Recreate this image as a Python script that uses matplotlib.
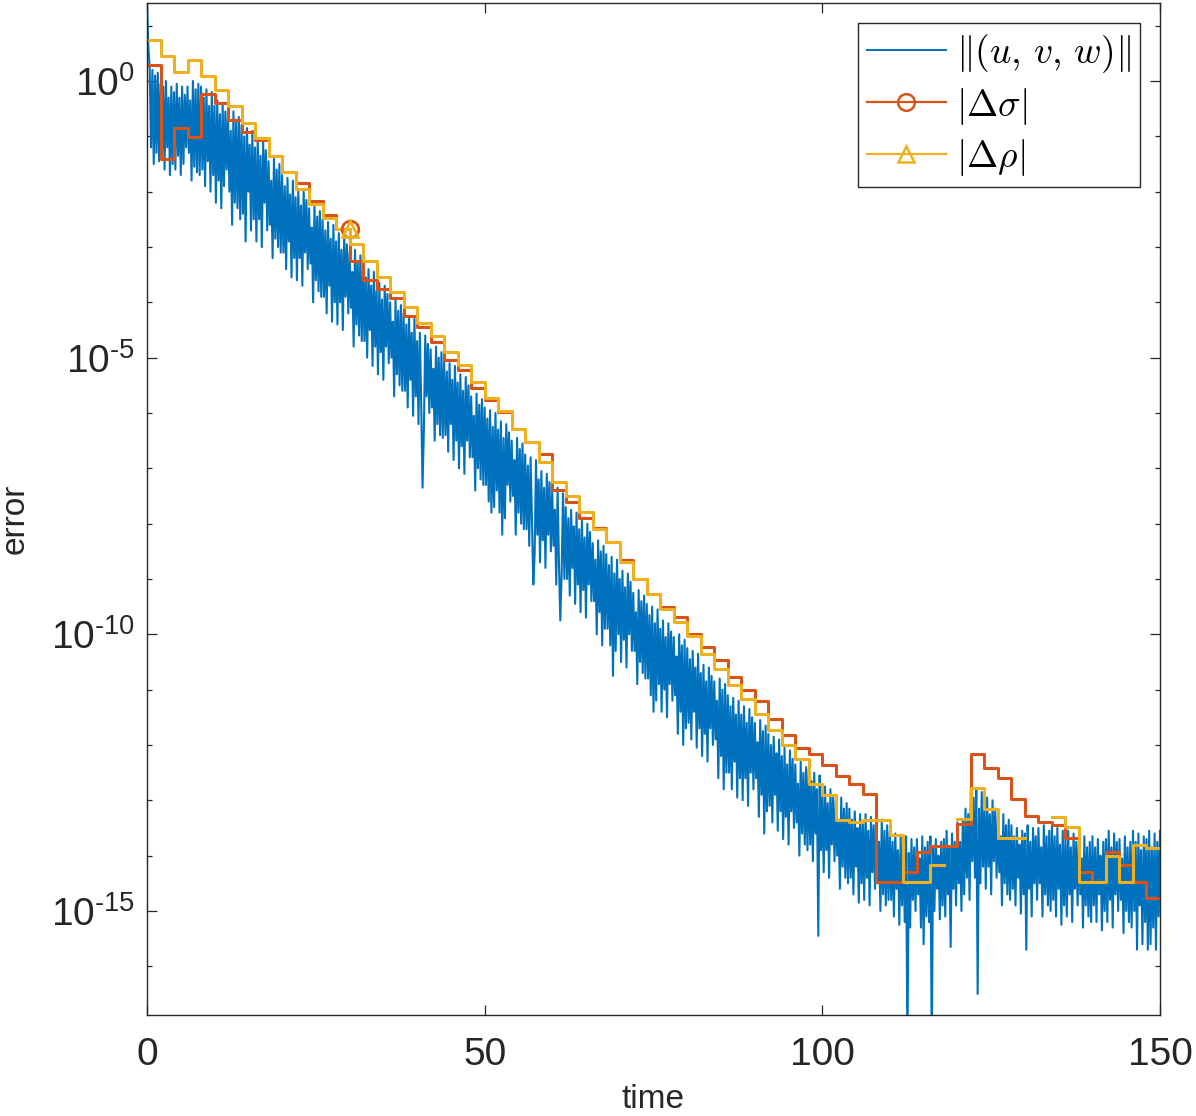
import numpy as np
import matplotlib
matplotlib.use('Agg')
import matplotlib.pyplot as plt
from matplotlib.lines import Line2D
from matplotlib.ticker import NullLocator, NullFormatter

plt.rcParams['font.family'] = ['Liberation Sans', 'DejaVu Sans']
plt.rcParams['mathtext.fontset'] = 'cm'
plt.rcParams['axes.unicode_minus'] = False

# stairs: one value per 2 time units, edges 0..150
stepTime = list(range(0, 152, 2))

# log10 |delta sigma| (red)
sigmaLog = [0.29, -1.41, -0.85, -1.01, -0.23, -0.39, -0.71, -0.92, -1.07, -1.35,
            -1.64, -1.85, -2.17, -2.42, -2.68, -3.25, -3.60, -3.76, -3.92, -4.24,
            -4.45, -4.72, -5.04, -5.22, -5.54, -5.76, -5.99, -6.29, -6.53, -6.75,
            -7.40, -7.61, -7.90, -8.08, -8.33, -8.66, -9.00, -9.28, -9.50, -9.69,
            -9.99, -10.23, -10.46, -10.78, -11.01, -11.21, -11.53, -11.82, -12.06, -12.17,
            -12.36, -12.56, -12.70, -12.89, -14.47, -14.47, -14.29, -13.93, -13.82, -13.82,
            -13.42, -12.17, -12.42, -12.59, -12.97, -13.29, -13.39, -13.44, -13.69, -14.30,
            -14.47, -13.94, -14.17, -14.47, -14.77]

# log10 |delta rho| (yellow), nan where it is exactly zero
rhoLog = [0.735, 0.45, 0.17, 0.38, 0.09, -0.17, -0.46, -0.76, -1.03, -1.35,
          -1.64, -1.95, -2.23, -2.47, -2.68, -2.95, -3.25, -3.55, -3.81, -4.09,
          -4.38, -4.60, -4.90, -5.14, -5.44, -5.72, -5.96, -6.29, -6.53, -6.89,
          -7.25, -7.50, -7.79, -8.09, -8.33, -8.69, -9.00, -9.28, -9.54, -9.78,
          -10.03, -10.35, -10.62, -10.92, -11.16, -11.44, -11.73, -12.00, -12.26, -12.70,
          -12.91, -13.36, -13.40, -13.36, -13.36, -13.63, -14.47, -14.47, -14.17, np.nan,
          -13.33, -12.77, -13.16, -13.69, -13.69, np.nan, np.nan, -13.30, -13.48, -14.47,
          -14.47, -14.01, -14.47, -13.80, -13.87]

# marker position on both stairs
markerTime = 30
markerLog = -2.68

# log10 ||(u,v,w)|| (blue), sampled every 0.2 time units (one row = 2 time units)
normStep = 0.2
normLog = [
  1.45, 0.6, 0.25, -1.2, 0.2, -1.5, 0.1, -1.3, 0.15, -1.45,
  -0.05, -1.4, -0.1, -1.6, 0.0, -1.2, -0.3, -1.7, -0.1, -1.5,
  -0.2, -1.6, -0.05, -1.35, -0.3, -1.7, -0.1, -1.5, -0.25, -1.2,
  -0.1, -1.3, -0.35, -1.8, 0.0, -1.55, -0.15, -1.65, -0.05, -1.7,
  -0.1, -1.6, -0.3, -1.9, -0.15, -1.45, -0.45, -2.0, -0.2, -1.7,
  -0.45, -2.2, -0.35, -1.8, -0.6, -2.3, -0.4, -1.9, -0.55, -1.6,
  -0.6, -2.0, -0.9, -2.6, -0.55, -2.2, -0.75, -2.3, -0.65, -2.5,
  -0.8, -2.4, -1.0, -2.9, -0.85, -2.0, -1.15, -2.7, -0.9, -2.5,
  -1.2, -2.9, -1.05, -2.5, -1.35, -3.0, -1.1, -2.2, -1.25, -2.7,
  -1.45, -2.6, -1.8, -3.2, -1.4, -2.85, -1.6, -3.0, -1.5, -3.1,
  -1.7, -3.1, -1.9, -3.4, -1.75, -2.9, -2.05, -3.55, -1.8, -3.2,
  -2.1, -3.6, -1.95, -3.2, -2.25, -3.7, -2.0, -3.1, -2.15, -3.4,
  -2.3, -3.3, -2.65, -4.0, -2.25, -3.6, -2.45, -3.8, -2.35, -3.9,
  -2.5, -3.9, -2.7, -4.2, -2.55, -3.7, -2.85, -4.35, -2.6, -4.0,
  -2.9, -4.4, -2.75, -4.0, -3.05, -4.5, -2.8, -3.9, -2.95, -4.2,
  -3.1, -4.1, -3.45, -4.8, -3.05, -4.4, -3.25, -4.6, -3.15, -4.7,
  -3.35, -4.7, -3.55, -5.0, -3.4, -4.5, -3.7, -5.15, -3.45, -4.8,
  -3.8, -5.3, -3.65, -4.9, -3.95, -5.4, -3.7, -4.8, -3.85, -5.1,
  -4.0, -5.0, -4.35, -5.7, -3.95, -5.3, -4.15, -5.5, -4.05, -5.6,
  -4.2, -5.6, -4.4, -5.9, -4.25, -5.4, -4.55, -6.05, -4.3, -5.7,
  -4.7, -6.2, -4.55, -5.8, -7.35, -6.3, -4.6, -5.7, -4.75, -6.0,
  -4.85, -5.9, -5.2, -6.5, -4.8, -6.2, -5.0, -6.4, -4.9, -6.45,
  -5.05, -6.4, -5.25, -6.7, -5.1, -6.2, -5.4, -6.85, -5.15, -6.5,
  -5.45, -7.0, -5.3, -6.6, -5.6, -7.1, -5.35, -6.5, -5.5, -6.8,
  -5.7, -6.8, -6.05, -7.4, -5.65, -7.0, -5.85, -7.2, -5.75, -7.3,
  -5.9, -7.3, -6.1, -7.6, -5.95, -7.8, -6.25, -7.7, -6.0, -7.4,
  -6.3, -7.8, -6.15, -8.2, -6.45, -7.9, -6.2, -7.3, -6.35, -7.6,
  -6.5, -7.5, -6.85, -8.2, -6.45, -7.8, -6.65, -8.0, -6.55, -8.1,
  -6.75, -8.1, -6.95, -8.4, -6.8, -7.9, -9.1, -8.55, -6.85, -8.2,
  -7.2, -8.7, -7.05, -8.3, -7.35, -8.8, -7.1, -8.2, -7.25, -8.5,
  -7.4, -8.4, -7.75, -9.1, -7.35, -8.7, -9.75, -8.9, -7.45, -9.0,
  -7.7, -9.0, -7.9, -9.3, -7.75, -8.8, -8.05, -9.45, -7.8, -9.1,
  -8.1, -9.6, -7.95, -9.2, -8.25, -9.7, -8.0, -9.1, -8.15, -9.4,
  -8.35, -9.4, -8.65, -10.0, -8.3, -9.6, -8.5, -10.2, -8.4, -9.9,
  -8.55, -9.9, -8.75, -10.2, -8.6, -10.75, -8.9, -10.3, -8.65, -10.0,
  -9.0, -10.5, -8.85, -10.1, -9.15, -10.6, -8.9, -10.0, -9.05, -10.3,
  -9.25, -10.3, -9.6, -10.9, -9.2, -10.5, -9.4, -10.7, -9.3, -10.8,
  -9.45, -10.8, -9.65, -11.1, -9.5, -11.4, -9.8, -11.2, -9.55, -10.9,
  -9.9, -11.4, -9.75, -11.0, -10.05, -11.5, -9.8, -10.9, -9.95, -11.2,
  -10.05, -11.1, -10.4, -11.8, -10.0, -11.4, -10.2, -12.0, -10.1, -11.7,
  -10.25, -11.6, -10.45, -11.9, -10.3, -11.4, -10.6, -12.05, -10.35, -11.7,
  -10.7, -12.2, -10.55, -11.8, -10.85, -12.3, -10.6, -11.7, -10.75, -12.0,
  -10.85, -11.9, -11.2, -12.6, -10.8, -12.2, -11.0, -12.8, -10.9, -12.5,
  -11.1, -12.5, -11.3, -12.8, -11.15, -12.3, -11.45, -12.95, -11.2, -12.6,
  -11.45, -13.0, -11.3, -12.6, -11.6, -13.1, -11.35, -12.5, -11.5, -12.8,
  -11.6, -12.6, -11.95, -13.3, -11.55, -12.9, -11.75, -13.6, -11.65, -13.2,
  -11.8, -13.1, -12.0, -13.4, -11.85, -12.9, -12.15, -13.55, -11.9, -13.2,
  -12.2, -13.7, -12.05, -13.3, -12.35, -13.8, -12.1, -13.2, -12.25, -13.5,
  -12.35, -13.4, -12.7, -14.0, -12.3, -13.6, -12.5, -13.8, -12.4, -13.9,
  -12.45, -13.8, -12.65, -14.1, -12.5, -13.6, -12.8, -15.45, -12.55, -13.9,
  -12.9, -14.3, -12.75, -13.9, -13.05, -14.4, -12.8, -13.8, -12.95, -14.1,
  -13.0, -14.0, -13.35, -14.6, -12.95, -14.2, -13.15, -14.4, -13.05, -14.5,
  -13.15, -14.4, -13.35, -14.7, -13.2, -14.2, -13.5, -14.85, -13.25, -14.5,
  -13.4, -14.8, -13.25, -14.4, -13.55, -14.9, -13.3, -14.3, -13.45, -14.6,
  -13.4, -14.5, -13.75, -15.0, -13.35, -14.7, -13.55, -14.9, -13.45, -14.8,
  -13.55, -14.8, -13.75, -15.1, -13.6, -14.6, -13.9, -15.25, -13.65, -14.9,
  -13.8, -15.2, -13.65, -17.6, -13.95, -15.3, -13.7, -14.8, -13.85, -15.0,
  -13.7, -14.7, -14.05, -15.3, -13.65, -15.6, -13.85, -15.1, -13.75, -15.2,
  -13.65, -17.6, -13.85, -15.0, -13.7, -14.6, -14.0, -15.15, -13.75, -14.9,
  -13.7, -15.1, -13.55, -14.7, -13.85, -15.65, -13.6, -14.6, -13.75, -14.9,
  -13.4, -14.5, -13.75, -15.0, -13.35, -14.7, -13.15, -14.4, -13.25, -14.8,
  -12.75, -14.1, -12.95, -14.4, -12.8, -16.5, -13.15, -14.5, -12.85, -14.2,
  -13.1, -14.6, -12.95, -14.2, -13.25, -14.7, -13.0, -14.1, -13.15, -14.4,
  -13.3, -14.3, -13.65, -14.9, -13.25, -14.5, -13.45, -14.7, -13.35, -14.8,
  -13.45, -14.6, -13.65, -14.9, -13.5, -14.4, -13.8, -15.05, -13.55, -14.7,
  -13.6, -15.7, -13.45, -14.6, -13.75, -15.1, -13.5, -14.5, -13.65, -14.8,
  -13.5, -14.5, -13.85, -15.1, -13.45, -14.7, -13.65, -14.9, -13.55, -15.0,
  -13.45, -14.8, -13.65, -15.1, -13.5, -14.6, -13.8, -15.25, -13.55, -14.9,
  -13.7, -15.1, -13.55, -14.7, -13.85, -15.2, -13.6, -14.6, -13.75, -14.9,
  -13.7, -14.7, -14.05, -15.3, -13.65, -14.9, -13.85, -15.1, -13.75, -15.2,
  -13.65, -14.9, -13.85, -15.2, -13.7, -14.7, -14.0, -15.35, -13.75, -15.0,
  -13.7, -15.2, -13.55, -14.8, -13.85, -15.3, -13.6, -14.7, -13.75, -15.0,
  -13.7, -14.8, -14.05, -15.4, -13.65, -15.0, -13.85, -15.2, -13.75, -15.3,
  -13.55, -15.0, -13.75, -15.7, -13.6, -14.9, -13.9, -15.6, -13.65, -15.2,
  -13.7, -15.7, -13.55, -15.6, -13.85, -15.3, -13.6, -15.7, -13.75, -15.1,
  -13.55]

blue = '#0072BD'
red = '#D95319'
yellow = '#EDB120'
ink = '#262626'

normTime = np.arange(len(normLog)) * normStep
normVals = 10.0 ** np.array(normLog)
sigmaVals = 10.0 ** np.array(sigmaLog + [sigmaLog[-1]])
rhoVals = 10.0 ** np.array(rhoLog + [rhoLog[-1]])

fig = plt.figure(figsize=(11.96, 11.16), dpi=100)
ax = fig.add_axes([147 / 1196, 101 / 1116, 1013 / 1196, 1012 / 1116])

ax.plot(normTime, normVals, color=blue, lw=1.5)
ax.step(stepTime, sigmaVals, where='post', color=red, lw=2.2)
ax.step(stepTime, rhoVals, where='post', color=yellow, lw=2.2)
ax.plot([markerTime], [10.0 ** markerLog], ls='none', marker='o', ms=12,
        mfc='none', mec=red, mew=2.0)
ax.plot([markerTime], [10.0 ** markerLog], ls='none', marker='^', ms=12,
        mfc='none', mec=yellow, mew=2.0)

ax.set_yscale('log')
ax.set_xlim(0, 150)
ax.set_ylim(10 ** -16.88, 10 ** 1.41)

ax.set_xticks([0, 50, 100, 150])
ax.xaxis.set_minor_locator(NullLocator())
ax.set_yticks([1e0, 1e-5, 1e-10, 1e-15])
ax.set_yticklabels(['$\\mathdefault{10^{0}}$', '$\\mathdefault{10^{\u20105}}$',
                    '$\\mathdefault{10^{\u201010}}$', '$\\mathdefault{10^{\u201015}}$'])
ax.set_yticks([10.0 ** e for e in range(-16, 2) if e % 5 != 0], minor=True)
ax.yaxis.set_minor_formatter(NullFormatter())

ax.tick_params(which='both', direction='in', top=True, right=True,
               color=ink, labelcolor=ink, width=0.9)
ax.tick_params(which='major', length=7.5, labelsize=28)
ax.tick_params(which='minor', length=3.8)
ax.tick_params(axis='x', pad=16)
ax.tick_params(axis='y', pad=9)
for s in ax.spines.values():
  s.set_color(ink)
  s.set_linewidth(1.0)

ax.set_xlabel('time', fontsize=24, color=ink)
ax.xaxis.set_label_coords(0.5, -0.092)
ax.xaxis.label.set_va('baseline')
ax.set_ylabel('error', fontsize=24, color=ink)
ax.yaxis.set_label_coords(-0.130, 0.49)
ax.yaxis.label.set_va('center')

handles = [
  Line2D([], [], color=blue, lw=1.4),
  Line2D([], [], color=red, lw=1.6, marker='o', ms=12, mfc='none', mew=1.8),
  Line2D([], [], color=yellow, lw=1.6, marker='^', ms=12, mfc='none', mew=1.8),
]
labels = [r'$\|(u,\,v,\,w)\|$', r'$|\Delta\sigma|$', r'$|\Delta\rho|$']
leg = ax.legend(handles, labels, loc='upper right', fontsize=27, fancybox=False,
                framealpha=1, edgecolor=ink, handlelength=2.1, handletextpad=0.27,
                labelspacing=0.28, borderpad=0.25, borderaxespad=0.53)
leg.get_frame().set_linewidth(1.0)

fig.savefig('out.png', dpi=100)
